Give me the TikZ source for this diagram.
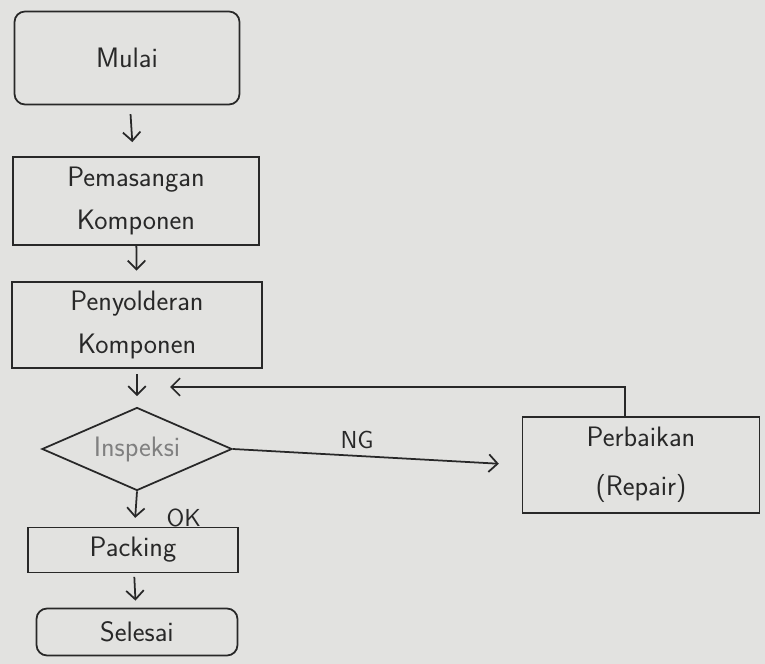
\documentclass[tikz,border=0pt]{standalone}
\usepackage{tikz}
\usepackage{xcolor}
\usetikzlibrary{positioning,shapes,arrows.meta,calc}

\definecolor{kertas}{RGB}{226,226,224}
\definecolor{tinta}{RGB}{40,40,40}

\tikzset{
  kotak/.style={draw=tinta,line width=1pt,rectangle,align=center,
    font=\sffamily\fontsize{16}{24}\selectfont,text=tinta},
  ujung/.style={kotak,rounded corners=6pt},
  cek/.style={draw=tinta,line width=1pt,diamond,aspect=2.3,inner sep=0pt,
    minimum width=3.8cm,minimum height=1.66cm,
    font=\sffamily\fontsize{16}{24}\selectfont,text=gray},
  alur/.style={draw=tinta,line width=1pt,-{Straight Barb[length=5pt,width=10pt]}},
  ket/.style={font=\sffamily\fontsize{14}{16}\selectfont,text=tinta}
}

\begin{document}
\begin{tikzpicture}[x=0.2mm,y=-0.2mm]
      \fill[kertas] (0,0) rectangle (765,664);
      \useasboundingbox (0,0) rectangle (765,664);
      % proses utama
      \node[ujung,minimum width=4.5cm,minimum height=1.86cm] (mulai) at (127,58) {Mulai};
      \node[kotak,minimum width=4.92cm,minimum height=1.76cm] (pasang) at (136,201) {Pemasangan\\Komponen};
      \node[kotak,minimum width=5cm,minimum height=1.72cm] (solder) at (137,325) {Penyolderan\\Komponen};
      \node[cek] (inspeksi) at (137,449) {Inspeksi};
      \node[kotak,minimum width=4.74cm,minimum height=1.92cm,font=\sffamily\fontsize{16}{28}\selectfont] (perbaikan) at (641,465) {Perbaikan\\(Repair)};
      \node[kotak,minimum width=4.2cm,minimum height=0.9cm] (packing) at (133,550) {Packing};
      \node[ujung,minimum width=4.02cm,minimum height=0.94cm] (selesai) at (137,632) {Selesai};
      \coordinate (balik) at (170,387);
      % panah
      \draw[alur,shorten <=5pt,shorten >=8pt] (mulai) -- (pasang);
      \draw[alur,shorten >=6pt] (pasang) -- (solder);
      \draw[alur,shorten <=3pt,shorten >=6pt] (solder) -- (inspeksi);
      \draw[alur,shorten >=13pt] (inspeksi.east) -- node[ket,above,pos=0.43] {NG} (perbaikan.west);
      \draw[alur] ([xshift=-3.2mm]perbaikan.north) |- (balik);
      \draw[alur,shorten >=5pt] (inspeksi.south) -- node[ket,right=14pt,pos=0.75] {OK} (packing);
      \draw[alur,shorten <=2pt,shorten >=4pt] (packing) -- (selesai);
\end{tikzpicture}
\end{document}
